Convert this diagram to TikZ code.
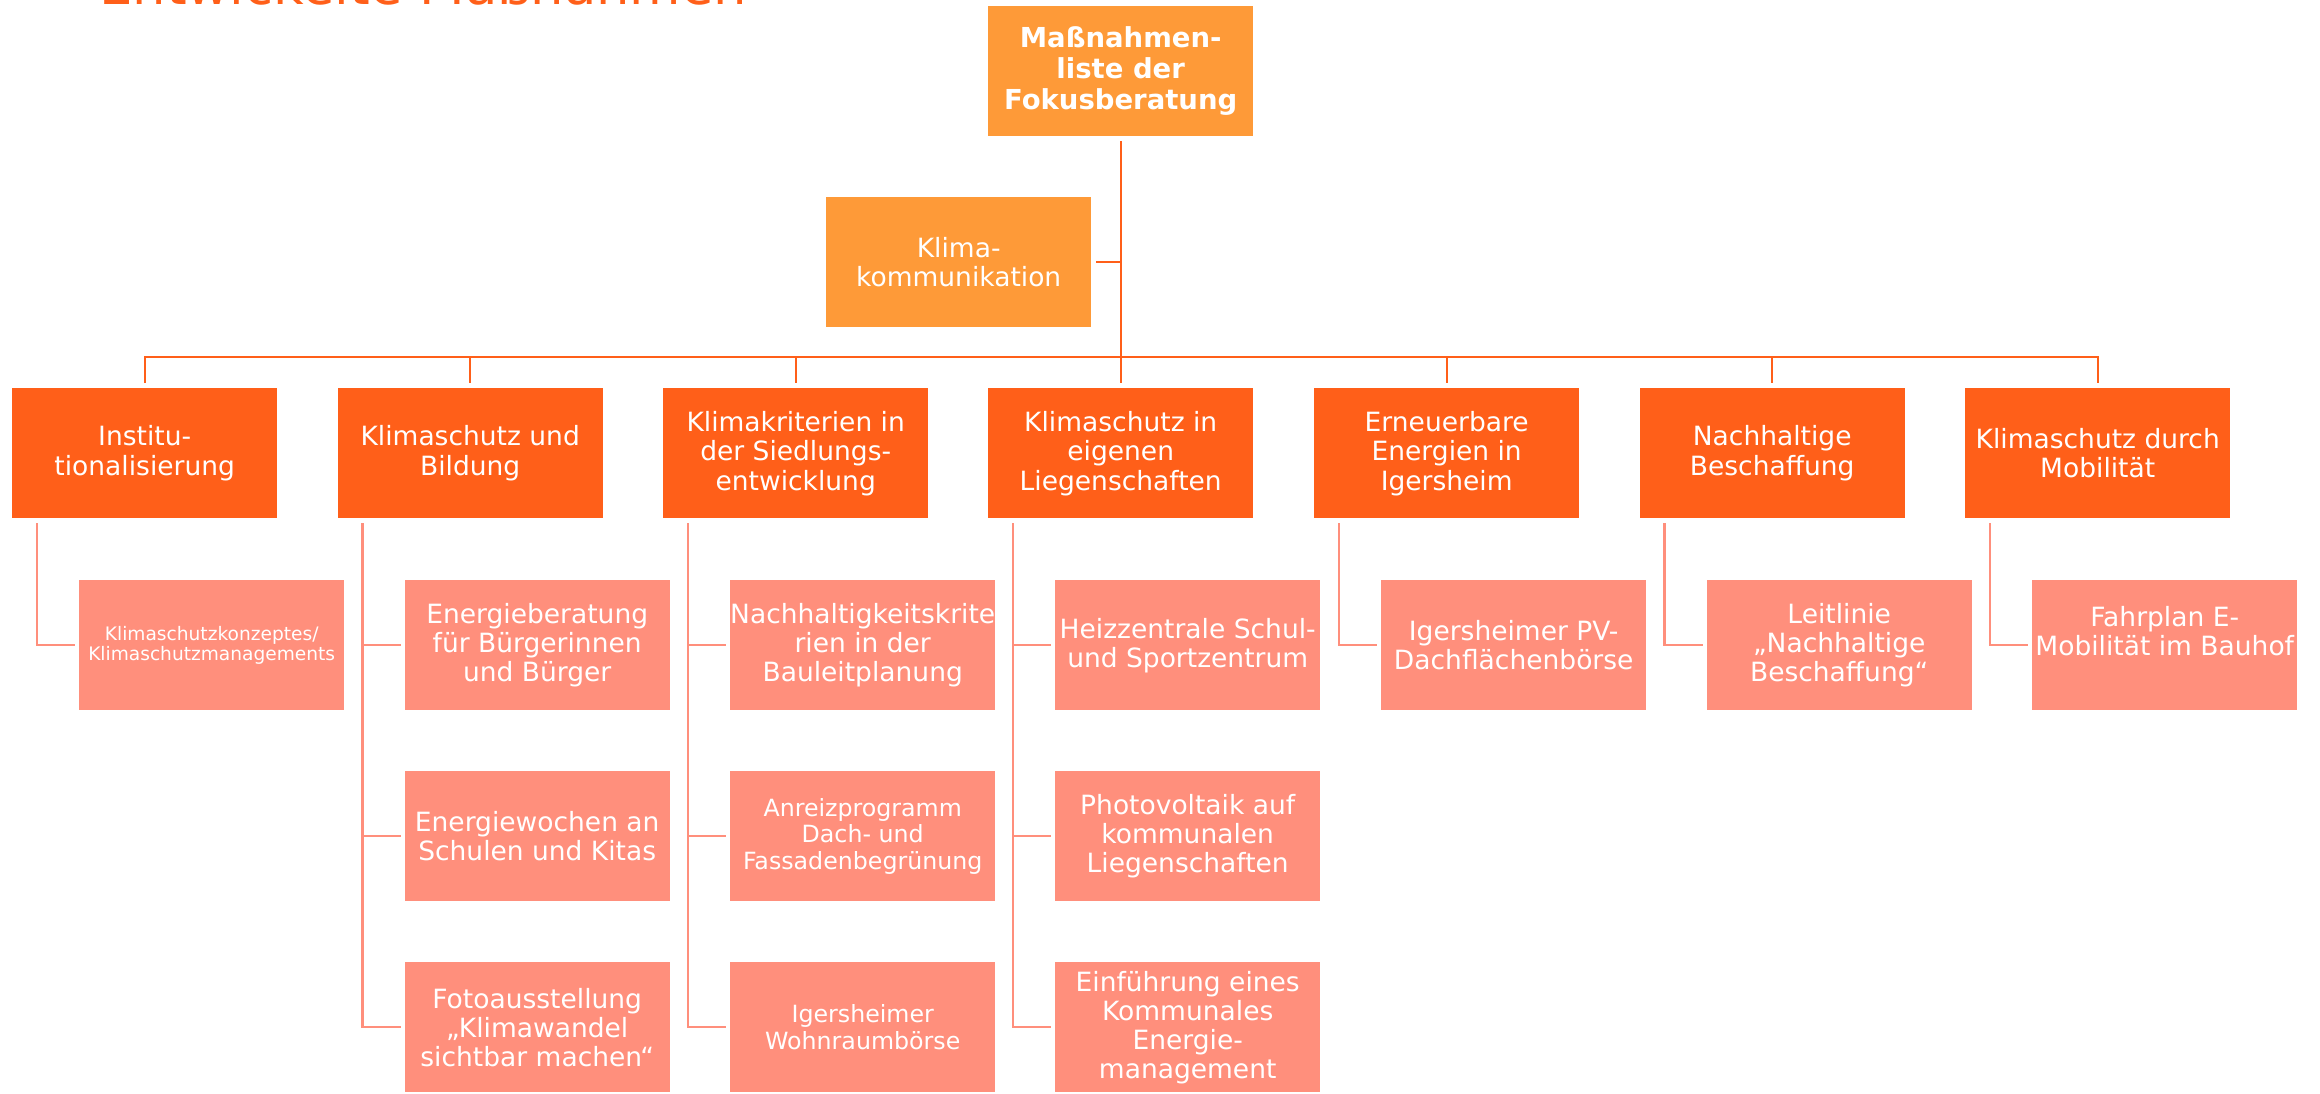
\documentclass[tikz,border=0pt]{standalone}
\usepackage{fontspec}
\setmainfont{DejaVu Sans}
\definecolor{cTop}{RGB}{254,154,56}
\definecolor{cMain}{RGB}{255,95,25}
\definecolor{cSub}{RGB}{255,143,124}
\begin{document}
\begin{tikzpicture}[x=1pt,y=-1pt,
  box/.style={rectangle, inner sep=0pt, minimum width=265pt, minimum height=130pt, text=white, align=center, anchor=north west},
  topbox/.style={box, fill=cTop, font=\bfseries\fontsize{27.5}{31}\selectfont},
  kbox/.style={box, fill=cTop, font=\fontsize{26.5}{29}\selectfont},
  lvtwo/.style={box, fill=cMain, font=\fontsize{26.5}{29.5}\selectfont},
  lvthree/.style={box, fill=cSub, font=\fontsize{26.5}{29}\selectfont},
  smalltext/.style={font=\fontsize{18.6}{20.5}\selectfont},
  midtext/.style={font=\fontsize{23.7}{26.7}\selectfont},
  mainline/.style={draw=cMain, line width=2.4pt, line join=miter},
  subline/.style={draw=cSub, line width=2.4pt, line join=miter},
]
\useasboundingbox (0,0) rectangle (2320,1093);
\clip (0,0) rectangle (2320,1093);

% title (cut off at the top edge)
\node[anchor=base west, text=cMain, inner sep=0pt, font=\fontsize{52.8}{60}\selectfont] (title) at (99,4) {Entwickelte Maßnahmen};

% top level
\node[topbox] (top) at (988,6) {Maßnahmen-\\liste der\\Fokusberatung};
\node[kbox] (komm) at (826,197) {Klima-\\kommunikation};

% level 2
\node[lvtwo] (L1) at (12,388) {Institu-\\tionalisierung};
\node[lvtwo] (L2) at (337.5,388) {Klimaschutz und\\Bildung};
\node[lvtwo] (L3) at (663,388) {Klimakriterien in\\der Siedlungs-\\entwicklung};
\node[lvtwo] (L4) at (988,388) {Klimaschutz in\\eigenen\\Liegenschaften};
\node[lvtwo] (L5) at (1314,388) {Erneuerbare\\Energien in\\Igersheim};
\node[lvtwo] (L6) at (1639.5,388) {Nachhaltige\\Beschaffung};
\node[lvtwo] (L7) at (1965,388) {Klimaschutz durch\\Mobilität};

% level 3
\node[lvthree, smalltext] (s1a) at (79,580) {Klimaschutzkonzeptes/\\Klimaschutzmanagements};

\node[lvthree] (s2a) at (404.5,580) {Energieberatung\\für Bürgerinnen\\und Bürger};
\node[lvthree] (s2b) at (404.5,771) {Energiewochen an\\Schulen und Kitas};
\node[lvthree] (s2c) at (404.5,962) {Fotoausstellung\\„Klimawandel\\sichtbar machen“};

\node[lvthree] (s3a) at (730,580) {Nachhaltigkeitskrite\\rien in der\\Bauleitplanung};
\node[lvthree, midtext] (s3b) at (730,771) {Anreizprogramm\\Dach- und\\Fassadenbegrünung};
\node[lvthree, midtext] (s3c) at (730,962) {Igersheimer\\Wohnraumbörse};

\node[lvthree] (s4a) at (1055,580) {Heizzentrale Schul-\\und Sportzentrum};
\node[lvthree] (s4b) at (1055,771) {Photovoltaik auf\\kommunalen\\Liegenschaften};
\node[lvthree] (s4c) at (1055,962) {Einführung eines\\Kommunales\\Energie-\\management};

\node[lvthree] (s5a) at (1381,580) {Igersheimer PV-\\Dachflächenbörse};
\node[lvthree] (s6a) at (1706.5,580) {Leitlinie\\„Nachhaltige\\Beschaffung“};
\node[lvthree] (s7a) at (2032,580) {Fahrplan E-\\Mobilität im Bauhof\\\mbox{}};

% level 1 connectors
\coordinate (busy) at (0,357);
\draw[mainline] ([yshift=5pt]L1.north) |- (L7.north |- busy) -- ([yshift=5pt]L7.north);
\draw[mainline] ([yshift=-5pt]top.south) -- ([yshift=5pt]L4.north);
\foreach \n in {L2,L3,L5,L6}
  \draw[mainline] (\n.north |- busy) -- ([yshift=5pt]\n.north);
\draw[mainline] ([xshift=5pt]komm.east) -- (komm.east -| top.south);

% level 2 -> level 3 connectors
\foreach \p/\c in {L1/s1a, L5/s5a, L6/s6a, L7/s7a}
  \draw[subline] ([xshift=25pt,yshift=-5pt]\p.south west) |- ([xshift=-4pt]\c.west);
\foreach \p/\a/\b/\c in {L2/s2a/s2b/s2c, L3/s3a/s3b/s3c, L4/s4a/s4b/s4c}{
  \draw[subline] ([xshift=25pt,yshift=-5pt]\p.south west) |- ([xshift=-4pt]\c.west);
  \draw[subline] ([xshift=25pt]\p.south west |- \a.west) -- ([xshift=-4pt]\a.west);
  \draw[subline] ([xshift=25pt]\p.south west |- \b.west) -- ([xshift=-4pt]\b.west);
}
\end{tikzpicture}
\end{document}
